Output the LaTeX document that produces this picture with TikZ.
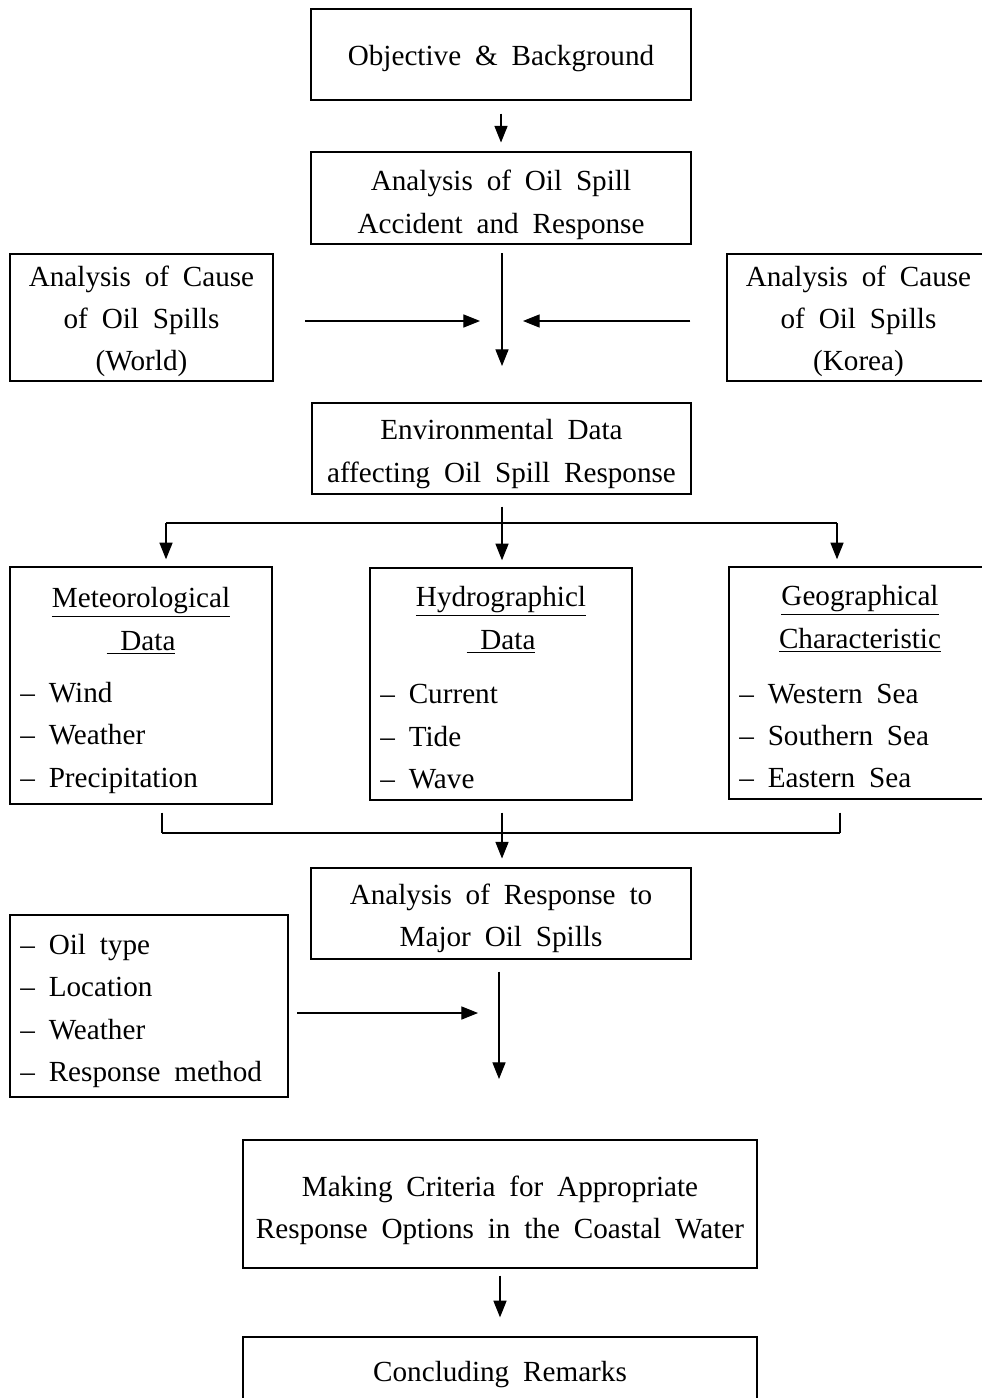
\documentclass[tikz,border=0pt]{standalone}
\usepackage{fontspec}
\setmainfont[WordSpace=1.9]{Liberation Serif}
\usetikzlibrary{arrows.meta}
\begin{document}
\begin{tikzpicture}[x=0.02cm,y=-0.02cm,
  box/.style={draw,line width=0.8pt,inner sep=0pt},
  txt/.style={inner sep=0pt,yshift=-2.2pt,font=\fontsize{16.6}{24.1}\selectfont},
  arr/.style={line width=0.6pt,-{Triangle[length=9.5pt,width=7.5pt]}},
  ln/.style={line width=0.6pt}]
\clip (0,0) rectangle (982,1398);
% boxes
\node[box,minimum width=380*0.02cm,minimum height=91*0.02cm] (obj) at (501,54.5) {};
\node[txt] (objt) at (obj.center) {Objective \& Background};
\node[box,minimum width=380*0.02cm,minimum height=92*0.02cm] (acc) at (501,198) {};
\node[txt,align=center] (acct) at (501,201) {Analysis of Oil Spill\\Accident and Response};
\node[box,minimum width=263*0.02cm,minimum height=127*0.02cm] (world) at (141.5,317.5) {};
\node[txt,align=center] (worldt) at (world.center) {Analysis of Cause\\of Oil Spills\\(World)};
\node[box,minimum width=263*0.02cm,minimum height=127*0.02cm] (korea) at (858.5,317.5) {};
\node[txt,align=center] (koreat) at (korea.center) {Analysis of Cause\\of Oil Spills\\(Korea)};
\node[box,minimum width=379*0.02cm,minimum height=91*0.02cm] (env) at (501.5,448.5) {};
\node[txt,align=center] (envt) at (501.5,450) {Environmental Data\\affecting Oil Spill Response};
\node[box,minimum width=262*0.02cm,minimum height=237*0.02cm] (met) at (141,685.5) {};
\node[box,minimum width=262*0.02cm,minimum height=232*0.02cm] (hyd) at (501,684) {};
\node[box,minimum width=262*0.02cm,minimum height=232*0.02cm] (geo) at (860,683) {};
\node[txt,align=center] (mett) at (141,617) {\underline{Meteorological}\\\underline{\ Data}};
\node[txt,align=left,anchor=west] (metl) at (20,734) {--\ Wind\\--\ Weather\\--\ Precipitation};
\node[txt,align=center] (hydt) at (501,616) {\underline{Hydrographicl}\\\underline{\ Data}};
\node[txt,align=left,anchor=west] (hydl) at (380,733) {--\ Current\\--\ Tide\\--\ Wave};
\node[txt,align=center] (geot) at (860,615) {\underline{Geographical}\\\underline{Characteristic}};
\node[txt,align=left,anchor=west] (geol) at (739,732) {--\ Western Sea\\--\ Southern Sea\\--\ Eastern Sea};
\node[box,minimum width=380*0.02cm,minimum height=91*0.02cm] (resp) at (501,913.5) {};
\node[txt,align=center] (respt) at (501,914.5) {Analysis of Response to\\Major Oil Spills};
\node[box,minimum width=278*0.02cm,minimum height=182*0.02cm] (oil) at (149,1006) {};
\node[txt,align=left,anchor=west] (oill) at (20,1007) {--\ Oil type\\--\ Location\\--\ Weather\\--\ Response method};
\node[box,minimum width=514*0.02cm,minimum height=128*0.02cm] (crit) at (500,1204) {};
\node[txt,align=center] (critt) at (500,1206.5) {Making Criteria for Appropriate\\Response Options in the Coastal Water};
\node[box,minimum width=514*0.02cm,minimum height=68*0.02cm] (conc) at (500,1371) {};
\node[txt] (conct) at (conc.center) {Concluding Remarks};
% junction coordinates
\coordinate (j1) at (502,366);
\coordinate (jw) at (480,321);
\coordinate (jk) at (523,321);
\coordinate (b1) at (502,523);
\coordinate (b2) at (837,523);
\coordinate (b0) at (166,523);
\coordinate (c0) at (162,833);
\coordinate (c1) at (502,833);
\coordinate (c2) at (840,833);
\coordinate (jo) at (478,1013);
\coordinate (j2) at (499,1079);
% connectors
\draw[arr,shorten <=7.4pt,shorten >=5pt] (obj.south) -- (acc.north);
\draw[arr,shorten <=5pt] (acc.south -| j1) -- (j1);
\draw[arr,shorten <=18pt] (world.east |- jw) -- (jw);
\draw[arr,shorten <=20.4pt] (korea.west |- jk) -- (jk);
\draw[ln,shorten <=6.8pt] (env.south -| b1) -- (b1);
\draw[ln] (b0) -- (b2);
\draw[arr,shorten >=4pt] (b1) -- (b1 |- hyd.north);
\draw[arr,shorten >=4pt] (b0) -- (b0 |- met.north);
\draw[arr,shorten >=4pt] (b2) -- (b2 |- geo.north);
\draw[ln,shorten <=4.5pt] (met.south -| c0) -- (c0);
\draw[ln,shorten <=7.4pt] (geo.south -| c2) -- (c2);
\draw[ln] (c0) -- (c2);
\draw[arr,shorten <=6.8pt,shorten >=5pt] (hyd.south -| c1) -- (c1 |- resp.north);
\draw[arr,shorten <=5pt] (oil.east |- jo) -- (jo);
\draw[arr,shorten <=6.8pt] (resp.south -| j2) -- (j2);
\draw[arr,shorten <=4pt,shorten >=10.8pt] (crit.south) -- (conc.north);
\end{tikzpicture}
\end{document}
